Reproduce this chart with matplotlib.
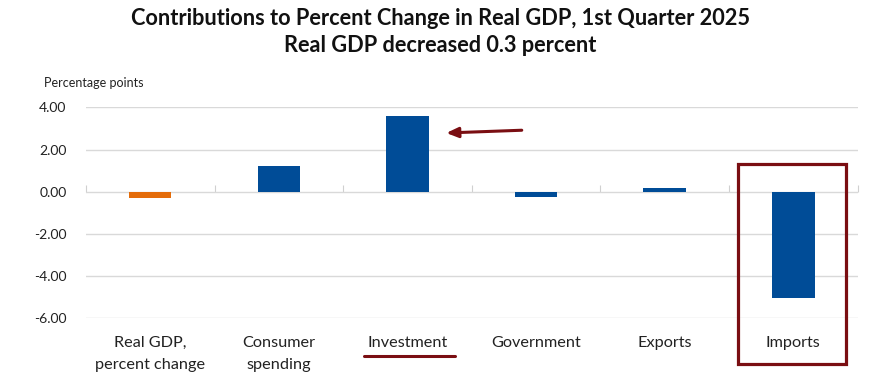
import matplotlib
matplotlib.use("Agg")
import matplotlib.pyplot as plt
import matplotlib.patches as patches

categories = ["Real GDP,\npercent change", "Consumer\nspending", "Investment",
              "Government", "Exports", "Imports"]
values = [-0.3, 1.21, 3.60, -0.25, 0.19, -5.03]
colors = ["#E46C0A", "#004C97", "#004C97", "#004C97", "#004C97", "#004C97"]
y_ticks = [4, 2, 0, -2, -4, -6]

mark = "#7A0E12"
plt.rcParams["font.family"] = ["Lato", "DejaVu Sans"]

fig = plt.figure(figsize=(8.86, 3.89), dpi=100)
ax = fig.add_axes([0.097, 0.182, 0.871, 0.542])

x = list(range(len(categories)))
ax.bar(x, values, width=0.33, color=colors, zorder=3)

ax.set_xlim(-0.5, len(categories) - 0.5)
ax.set_ylim(-6, 4)
ax.set_yticks(y_ticks)
ax.set_yticklabels([f"{v:.2f}" for v in y_ticks], fontsize=10, color="#222222")
ax.set_xticks(x)
ax.set_xticklabels(categories, fontsize=11.7, color="#222222", linespacing=1.7)
ax.tick_params(axis="both", length=0)
ax.tick_params(axis="y", pad=14)
ax.tick_params(axis="x", pad=13)
ax.grid(axis="y", color="#D9D9D9", linewidth=1, zorder=0)
for s in ax.spines.values():
    s.set_visible(False)

# category boundary ticks on the zero line (pointing up)
sec = ax.secondary_xaxis(0.6)
sec.set_xticks([i - 0.5 for i in range(len(categories) + 1)])
sec.tick_params(direction="out", length=5, color="#D0D0D0",
                labelbottom=False, labeltop=False)
sec.spines["bottom"].set_visible(False)
sec.spines["top"].set_visible(False)

fig.text(0.05, 0.787, "Percentage points", fontsize=9, va="center", color="#222222")
fig.text(0.497, 0.953, "Contributions to Percent Change in Real GDP, 1st Quarter 2025",
         ha="center", va="center", fontsize=15.7, fontweight="bold", color="#111111")
fig.text(0.497, 0.883, "Real GDP decreased 0.3 percent",
         ha="center", va="center", fontsize=15.7, fontweight="bold", color="#111111")

# annotations
ax.annotate("", xy=(2.28, 2.78), xytext=(2.91, 2.92),
            arrowprops=dict(arrowstyle="-|>,head_length=0.7,head_width=0.3",
                            color=mark, lw=2.2), zorder=5)
ax.plot([1.66, 2.37], [-7.77, -7.77], color=mark, lw=2.2, clip_on=False,
        solid_capstyle="round")
ax.add_patch(patches.Rectangle((4.57, -8.17), 0.84, 9.48, fill=False,
                               edgecolor=mark, lw=2.3, clip_on=False, zorder=5))

fig.savefig("out.png", dpi=100)
